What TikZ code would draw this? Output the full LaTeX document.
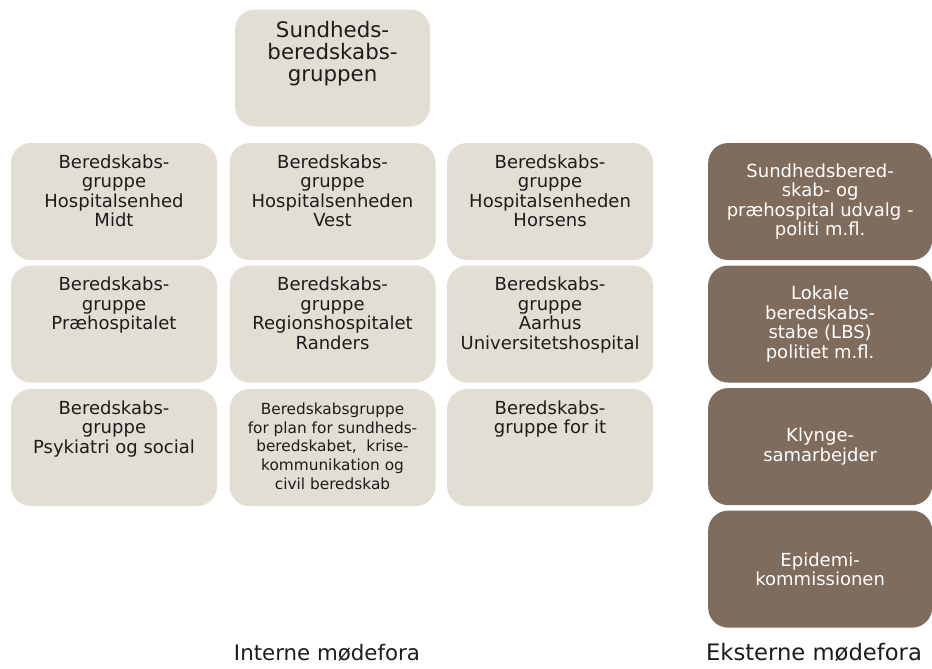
\documentclass[tikz,border=0pt]{standalone}
\usepackage{fontspec}
\setmainfont{DejaVu Sans}
\usetikzlibrary{positioning}
\usepackage{xcolor}
\definecolor{beigeBox}{RGB}{226,222,212}
\definecolor{brownBox}{RGB}{127,108,92}
\definecolor{darkText}{RGB}{28,28,28}
% text placed at the top of a fixed-height box
\newcommand{\boxlines}[2][8.6pt]{\parbox[c][87.75pt][t]{140pt}{\centering\vspace*{#1}#2\par}}

\begin{document}
\begin{tikzpicture}[
    lbox/.style={rectangle, rounded corners=15pt, fill=beigeBox, text=darkText, inner sep=0pt,
                 minimum width=154.5pt, minimum height=87.75pt, font=\fontsize{13.5pt}{14.6pt}\selectfont},
    dbox/.style={rectangle, rounded corners=15pt, fill=brownBox, text=white, inner sep=0pt, align=center,
                 minimum width=168pt, minimum height=87.75pt, font=\fontsize{13.5pt}{14.6pt}\selectfont},
    forum/.style={text=darkText, inner sep=0pt}
]
\useasboundingbox (0,0) rectangle (699pt,-501pt);

% interne moedefora
\node[lbox, minimum width=146.25pt, font=\fontsize{16pt}{16.5pt}\selectfont] (sbg) at (249.4pt,-51pt)
    {\boxlines[9.2pt]{Sundheds-\\beredskabs-\\gruppen}};
\node[lbox, below=12pt of sbg] (vest) {\boxlines{Beredskabs-\\gruppe\\Hospitalsenheden\\Vest}};
\node[lbox, left=9pt of vest] (midt) {\boxlines{Beredskabs-\\gruppe\\Hospitalsenhed\\Midt}};
\node[lbox, right=8.25pt of vest] (horsens) {\boxlines{Beredskabs-\\gruppe\\Hospitalsenheden\\Horsens}};
\node[lbox, below=3.75pt of midt] (praehosp) {\boxlines{Beredskabs-\\gruppe\\Præhospitalet}};
\node[lbox, below=3.75pt of vest] (randers) {\boxlines{Beredskabs-\\gruppe\\Regionshospitalet\\Randers}};
\node[lbox, below=3.75pt of horsens] (aarhus) {\boxlines{Beredskabs-\\gruppe\\Aarhus\\Universitetshospital}};
\node[lbox, below=4.5pt of praehosp] (psyk) {\boxlines{Beredskabs-\\gruppe\\Psykiatri og social}};
\node[lbox, below=4.5pt of randers, font=\fontsize{11.5pt}{14.2pt}\selectfont] (plan)
    {\boxlines[10pt]{Beredskabsgruppe\\for plan for sundheds-\\beredskabet,\ \ krise-\\kommunikation og\\civil beredskab}};
\node[lbox, below=4.5pt of aarhus] (it) {\boxlines{Beredskabs-\\gruppe for it}};

% eksterne moedefora
\node[dbox, right=40.9pt of horsens] (udvalg) {Sundhedsbered-\\skab- og\\præhospital udvalg -\\politi m.fl.};
\node[dbox, below=3.75pt of udvalg] (lbs) {Lokale\\beredskabs-\\stabe (LBS)\\politiet m.fl.};
\node[dbox, below=3.75pt of lbs] (klynge) {Klynge-\\samarbejder};
\node[dbox, below=3.75pt of klynge] (epidemi) {Epidemi-\\kommissionen};

\node[forum, font=\fontsize{16pt}{18pt}\selectfont] (interne) at (245.25pt,-489.5pt) {Interne mødefora};
\node[forum, font=\fontsize{17pt}{20pt}\selectfont] (eksterne) at (610.5pt,-489.5pt) {Eksterne mødefora};
\end{tikzpicture}
\end{document}
